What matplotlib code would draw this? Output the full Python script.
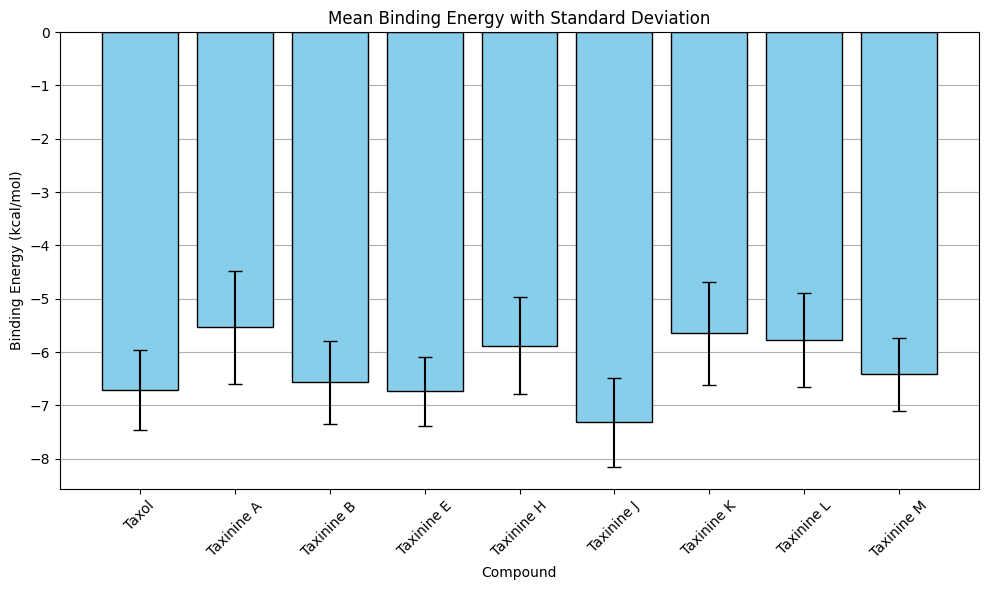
import numpy as np
import matplotlib
matplotlib.use('agg')
import matplotlib.pyplot as plt

# values
compounds = ['Taxol', 'Taxinine A', 'Taxinine B', 'Taxinine E', 'Taxinine H',
             'Taxinine J', 'Taxinine K', 'Taxinine L', 'Taxinine M']
mean_energy = [-6.72, -5.54, -6.57, -6.74, -5.88, -7.32, -5.65, -5.78, -6.42]
std_energy = [0.75, 1.06, 0.78, 0.64, 0.91, 0.84, 0.97, 0.88, 0.68]

fig, ax = plt.subplots(figsize=(9.89, 5.9), dpi=100)
ax.bar(compounds, mean_energy, yerr=std_energy, capsize=5,
       color='skyblue', edgecolor='black')
ax.set_title('Mean Binding Energy with Standard Deviation')
ax.set_xlabel('Compound')
ax.set_ylabel('Binding Energy (kcal/mol)')
plt.xticks(rotation=45)
ax.grid(axis='y')
ax.set_axisbelow(True)
plt.subplots_adjust(left=60/989, right=979/989, top=1-32/590, bottom=1-489/590)
plt.savefig('out.png')
